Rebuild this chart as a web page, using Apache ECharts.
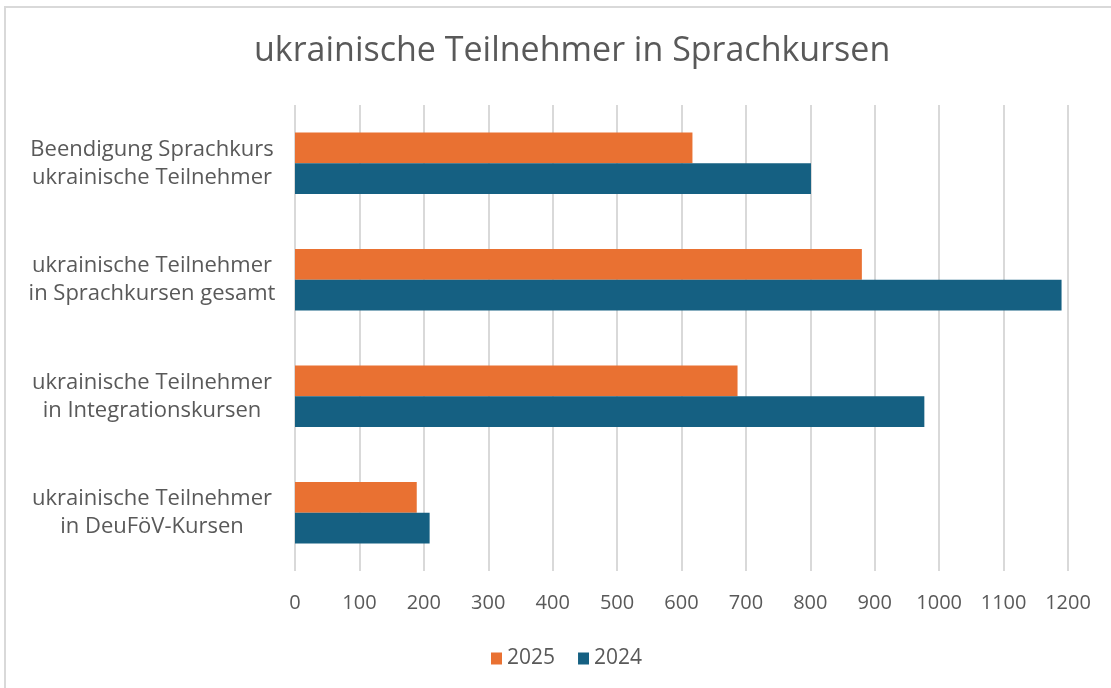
<!DOCTYPE html>
<html>
<head>
<meta charset="utf-8">
<script src="https://cdn.jsdelivr.net/npm/echarts@6/dist/echarts.min.js"></script>
<style>
html,body{margin:0;padding:0;background:#fff;}
#chart{width:1111px;height:688px;}
</style>
</head>
<body>
<div id="chart"></div>
<script>
const titleText = 'ukrainische Teilnehmer in Sprachkursen';
const categories = [
  'Beendigung Sprachkurs\nukrainische Teilnehmer',
  'ukrainische Teilnehmer\nin Sprachkursen gesamt',
  'ukrainische Teilnehmer\nin Integrationskursen',
  'ukrainische Teilnehmer\nin DeuFöV-Kursen'
];
const seriesNames = ['2025', '2024'];
const values2025 = [617, 880, 687, 189];
const values2024 = [801, 1190, 977, 209];
const colors = ['#E97132', '#156082'];

const chart = echarts.init(document.getElementById('chart'), null, {renderer: 'canvas'});
const textColor = '#595959';
const font = 'Open Sans';

chart.setOption({
  animation: false,
  backgroundColor: '#fff',
  title: {
    text: titleText,
    left: 249,
    top: 29,
    textStyle: {fontFamily: font, fontSize: 34, fontWeight: 'normal', color: textColor}
  },
  legend: {
    data: seriesNames,
    bottom: 14,
    left: 486,
    itemWidth: 11,
    itemHeight: 12,
    itemGap: 23,
    icon: 'rect',
    textStyle: {fontFamily: font, fontSize: 21, color: textColor, padding: [0, 0, 0, 0]}
  },
  grid: {left: 295, right: 43, top: 105, bottom: 117, containLabel: false},
  xAxis: {
    type: 'value',
    min: 0,
    max: 1200,
    interval: 100,
    axisLine: {show: false},
    axisTick: {show: false},
    splitLine: {lineStyle: {color: '#d9d9d9', width: 2}},
    axisLabel: {fontFamily: font, fontSize: 20, color: textColor, margin: 22, formatter: v => String(v)}
  },
  yAxis: {
    type: 'category',
    inverse: true,
    data: categories,
    axisLine: {show: false},
    axisTick: {show: false},
    axisLabel: {fontFamily: font, fontSize: 22, color: textColor, margin: 143, align: 'center', lineHeight: 28, padding: [3, 0, 0, 0]}
  },
  series: [
    {name: seriesNames[0], type: 'bar', data: values2025, itemStyle: {color: colors[0]}, barGap: '0%', barCategoryGap: '47%'},
    {name: seriesNames[1], type: 'bar', data: values2024, itemStyle: {color: colors[1]}, barGap: '0%', barCategoryGap: '47%'}
  ],
  graphic: [
    {type: 'line', shape: {x1: 4, y1: 7, x2: 1111, y2: 7}, style: {stroke: '#d9d9d9', lineWidth: 2}},
    {type: 'line', shape: {x1: 5, y1: 6, x2: 5, y2: 688}, style: {stroke: '#d9d9d9', lineWidth: 2}}
  ]
});
</script>
</body>
</html>
